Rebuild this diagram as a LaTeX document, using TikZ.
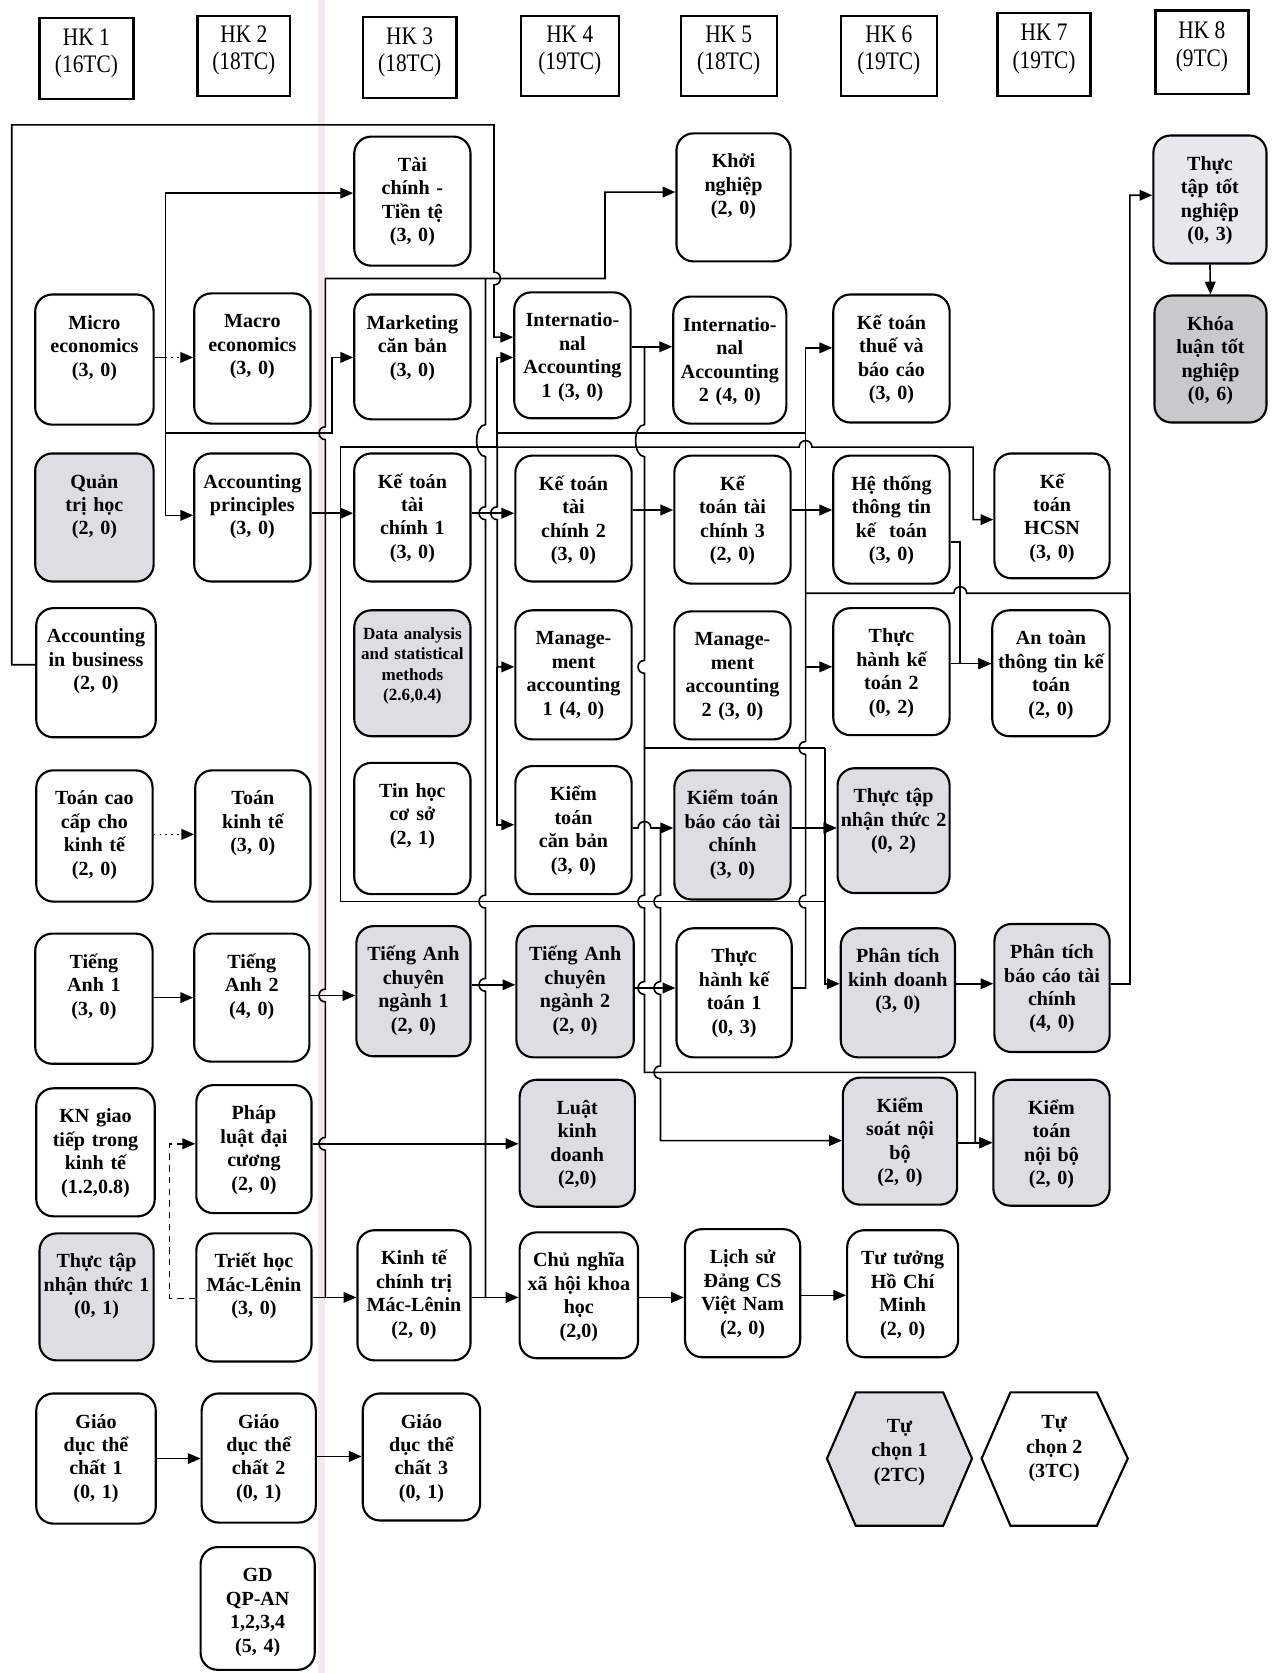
\documentclass[tikz,border=0pt]{standalone}
\usepackage{fontspec}
\setmainfont{Liberation Serif}
\newfontfamily\hdrfont[FakeStretch=0.85]{Liberation Serif}
\usetikzlibrary{arrows.meta}
\definecolor{gbox}{RGB}{222,221,228}
\definecolor{gboxl}{RGB}{231,231,237}
\definecolor{gboxd}{RGB}{200,200,205}
\definecolor{pinkband}{RGB}{245,233,241}
\tikzset{
 cbox/.style={draw=black, line width=1pt, rounded corners=8pt, inner sep=0pt},
 ctext/.style={anchor=north, inner sep=0pt, align=center, text width=60pt, text height=7pt, font=\fontsize{9.4}{11}\selectfont\bfseries},
 ln/.style={line width=0.75pt},
 arr/.style={-{Triangle[length=6pt,width=5pt]}},
 hbox/.style={draw=black, line width=1.1pt, inner sep=0pt},
 htext/.style={align=center, inner sep=0pt, font=\hdrfont\fontsize{11.8}{12.8}\selectfont},
 hext/.style={align=center, inner sep=0pt, font=\fontsize{9.4}{11.5}\selectfont\bfseries},
 vd/.style 2 args={insert path={-- (#1,#2-6) .. controls (#1-8,#2-6) and (#1-8,#2+6) .. (#1,#2+6)}},
 vdr/.style 2 args={insert path={-- (#1,#2-6) .. controls (#1+8,#2-6) and (#1+8,#2+6) .. (#1,#2+6)}},
 vu/.style 2 args={insert path={-- (#1,#2+6) .. controls (#1-8,#2+6) and (#1-8,#2-6) .. (#1,#2-6)}},
 hr/.style 2 args={insert path={-- (#1-6,#2) .. controls (#1-6,#2-8) and (#1+6,#2-8) .. (#1+6,#2)}},
}
\newcommand\course[7][]{%
 \node[cbox,minimum width={(#5-#3)*0.5pt},minimum height={(#6-#4)*0.5pt},#1] (#2) at ({(#3+#5)/2},{(#4+#6)/2}) {};
 \node[ctext] (#2t) at ([yshift=-9.5pt]#2.north) {#7};}
\newcommand\hk[6]{%
 \node[hbox,minimum width={(#4-#2)*0.5pt},minimum height={(#5-#3)*0.5pt}] (#1) at ({(#2+#4)/2},{(#3+#5)/2}) {};
 \node[htext] (#1t) at ([yshift=2.5pt]#1.center) {#6};}
\begin{document}
\begin{tikzpicture}[x=0.5pt,y=-0.5pt]
\useasboundingbox (0,0) rectangle (1198,1568);
\fill[white] (0,0) rectangle (1198,1568);
\fill[pinkband] (298,0) rectangle (305,1568);

% headers
\hk{hk1}{37}{17}{125}{93}{HK 1\\(16TC)}
\hk{hk2}{185}{15}{272}{90}{HK 2\\(18TC)}
\hk{hk3}{340}{16}{428}{92}{HK 3\\(18TC)}
\hk{hk4}{488}{15}{580}{90}{HK 4\\(19TC)}
\hk{hk5}{638}{15}{728}{90}{HK 5\\(18TC)}
\hk{hk6}{788}{15}{878}{90}{HK 6\\(19TC)}
\hk{hk7}{935}{12}{1022}{90}{HK 7\\(19TC)}
\hk{hk8}{1083}{10}{1170}{88}{HK 8\\(9TC)}

% courses
\course{tai}{332}{128}{441}{249}{Tài\\chính -\\Tiền tệ\\(3, 0)}
\course{khoi}{634}{125}{741}{245}{Khởi\\nghiệp\\(2, 0)}
\course[fill=gboxl]{tttn}{1081}{127}{1187}{247}{Thực\\tập tốt\\nghiệp\\(0, 3)}
\course{micro}{33}{276}{144}{398}{Micro\\economics\\(3, 0)}
\course{macro}{182}{275}{291}{397}{Macro\\economics\\(3, 0)}
\course{mkt}{332}{276}{441}{393}{Marketing\\căn bản\\(3, 0)}
\course{ia1}{482}{274}{591}{392}{Internatio-\\nal\\Accounting\\1 (3, 0)}
\course{ia2}{631}{278}{737}{397}{Internatio-\\nal\\Accounting\\2 (4, 0)}
\course{ktthue}{781}{276}{890}{396}{Kế toán\\thuế và\\báo cáo\\(3, 0)}
\course[fill=gboxd]{kl}{1082}{277}{1187}{396}{Khóa\\luận tốt\\nghiệp\\(0, 6)}
\course[fill=gbox]{qth}{33}{425}{144}{545}{Quản\\trị học\\(2, 0)}
\course{acprin}{182}{425}{291}{545}{Accounting\\principles\\(3, 0)}
\course{ktc1}{332}{425}{441}{545}{Kế toán\\tài\\chính 1\\(3, 0)}
\course{ktc2}{483}{427}{592}{545}{Kế toán\\tài\\chính 2\\(3, 0)}
\course{ktc3}{632}{427}{741}{547}{Kế\\toán tài\\chính 3\\(2, 0)}
\course{hts}{781}{427}{890}{547}{Hệ thống\\thông tin\\kế\ \ toán\\(3, 0)}
\course{hcsn}{932}{425}{1040}{542}{Kế\\toán\\HCSN\\(3, 0)}
\course{accbus}{34}{570}{146}{691}{Accounting\\in business\\(2, 0)}
\node[cbox,fill=gbox,minimum width=54.5pt,minimum height=59pt] (data) at (386.5,631) {};
\node[ctext,font=\fontsize{8}{9.5}\selectfont\bfseries,text height=6pt] (datat) at ([yshift=-8pt]data.north) {Data analysis\\and statistical\\methods\\(2.6,0.4)};
\course{ma1}{483}{572}{592}{693}{Manage-\\ment\\accounting\\1 (4, 0)}
\course{ma2}{632}{573}{741}{693}{Manage-\\ment\\accounting\\2 (3, 0)}
\course{th2}{781}{570}{890}{689}{Thực\\hành kế\\toán 2\\(0, 2)}
\course{atoan}{930}{572}{1040}{690}{An toàn\\thông tin kế\\toán\\(2, 0)}
\course{tcc}{34}{722}{143}{845}{Toán cao\\cấp cho\\kinh tế\\(2, 0)}
\course{tkt}{183}{722}{291}{845}{Toán\\kinh tế\\(3, 0)}
\course{tinhoc}{332}{715}{441}{838}{Tin học\\cơ sở\\(2, 1)}
\course{ktcb}{483}{718}{592}{838}{Kiểm\\toán\\căn bản\\(3, 0)}
\course[fill=gbox]{ktbc}{632}{722}{741}{843}{Kiểm toán\\báo cáo tài\\chính\\(3, 0)}
\course[fill=gbox]{ttnt2}{785}{720}{890}{837}{Thực tập\\nhận thức 2\\(0, 2)}
\course{ta1}{33}{875}{143}{997}{Tiếng\\Anh 1\\(3, 0)}
\course{ta2}{182}{875}{290}{995}{Tiếng\\Anh 2\\(4, 0)}
\course[fill=gbox]{tacn1}{334}{868}{441}{990}{Tiếng Anh\\chuyên\\ngành 1\\(2, 0)}
\course[fill=gbox]{tacn2}{484}{868}{594}{991}{Tiếng Anh\\chuyên\\ngành 2\\(2, 0)}
\course{th1}{634}{870}{742}{991}{Thực\\hành kế\\toán 1\\(0, 3)}
\course[fill=gbox]{ptkd}{788}{870}{895}{991}{Phân tích\\kinh doanh\\(3, 0)}
\course[fill=gbox]{ptbc}{932}{866}{1040}{986}{Phân tích\\báo cáo tài\\chính\\(4, 0)}
\course{kngt}{34}{1020}{145}{1140}{KN giao\\tiếp trong\\kinh tế\\(1.2,0.8)}
\course{pl}{184}{1017}{292}{1137}{Pháp\\luật đại\\cương\\(2, 0)}
\course[fill=gbox]{lkd}{487}{1012}{595}{1131}{Luật\\kinh\\doanh\\(2,0)}
\course[fill=gbox]{ksnb}{790}{1010}{897}{1129}{Kiểm\\soát nội\\bộ\\(2, 0)}
\course[fill=gbox]{ktnb}{931}{1012}{1040}{1130}{Kiểm\\toán\\nội bộ\\(2, 0)}
\course[fill=gbox]{ttnt1}{37}{1156}{144}{1275}{Thực tập\\nhận thức 1\\(0, 1)}
\course{triet}{184}{1156}{292}{1276}{Triết học\\Mác-Lênin\\(3, 0)}
\course{ktct}{335}{1153}{441}{1275}{Kinh tế\\chính trị\\Mác-Lênin\\(2, 0)}
\course{cnxh}{487}{1155}{598}{1273}{Chủ nghĩa\\xã hội khoa\\học\\(2,0)}
\course{lsd}{642}{1152}{750}{1272}{Lịch sử\\Đảng CS\\Việt Nam\\(2, 0)}
\course{tthcm}{794}{1153}{898}{1272}{Tư tưởng\\Hồ Chí\\Minh\\(2, 0)}
\course{gd1}{34}{1306}{146}{1428}{Giáo\\dục thể\\chất 1\\(0, 1)}
\course{gd2}{189}{1306}{296}{1427}{Giáo\\dục thể\\chất 2\\(0, 1)}
\course{gd3}{340}{1306}{450}{1425}{Giáo\\dục thể\\chất 3\\(0, 1)}
\course{qpan}{188}{1450}{295}{1565}{GD\\QP-AN\\1,2,3,4\\(5, 4)}

% elective hexagons
\draw[line width=1pt,fill=gbox] (802,1305) -- (884,1305) -- (911,1367) -- (884,1430) -- (802,1430) -- (775,1367) -- cycle;
\node[hext] (hex1) at (843,1361) {Tự\\chọn 1\\(2TC)};
\draw[line width=1pt] (947,1305) -- (1028,1305) -- (1057,1367) -- (1028,1430) -- (947,1430) -- (920,1367) -- cycle;
\node[hext] (hex2) at (988,1358) {Tự\\chọn 2\\(3TC)};

% ---- connectors ----
% Micro economics
\draw[ln] (micro.east |- 0,335) -- (155,335);
\draw[ln,dotted,arr] (155,335) -- (macro.west |- 0,335);
\draw[ln,arr] (155,335) -- (155,181) -- (tai.west |- 0,181);
\draw[ln,arr] (155,335) -- (155,483) -- (acprin.west |- 0,483);
\draw[ln,arr] (155,406) -- (311,406) -- (311,335) -- (mkt.west |- 0,335);

% line at x=305 to Khoi nghiep
\draw[ln,arr] (305,1216) [vu={305}{1072}] [vu={305}{933}] [vu={305}{406}] -- (305,261) -- (567,261) -- (567,180) -- (khoi.west |- 0,180);
% line at x=455
\draw[ln] (455,261) -- (455,398) .. controls (444,398) and (444,428) .. (455,428) [vd={455}{481}] [vd={455}{845}] [vd={455}{923}] -- (455,1216);

% Accounting in business
\draw[ln,arr] (accbus.west |- 0,623) -- (11,623) -- (11,117) -- (463,117) [vdr={463}{261}] -- (463,316) -- (ia1.west |- 0,316);

% Accounting principles
\draw[ln,arr] (acprin.east |- 0,481) -- (ktc1.west |- 0,481);
\draw[ln] (319,845) -- (319,419) -- (466,419);
\draw[ln,arr] (466,419) [hr={755}{419}] -- (912,419) -- (912,487) -- (hcsn.west |- 0,487);
\draw[ln,arr] (466,419) -- (466,335) -- (ia1.west |- 0,335);
\draw[ln,arr] (466,419) [vd={466}{481}] -- (466,625) -- (ma1.west |- 0,625);
\draw[ln,arr] (466,625) -- (466,773) -- (ktcb.west |- 0,773);
\draw[ln] (466,406) -- (755,406);
\draw[ln] (319,845) -- (773,845);

% financial accounting chain
\draw[ln,arr] (ktc1.east |- 0,481) -- (ktc2.west |- 0,481);
\draw[ln,arr] (ktc2.east |- 0,478) -- (ktc3.west |- 0,478);
\draw[ln,arr] (ktc3.east |- 0,478) -- (hts.west |- 0,478);

% international accounting
\draw[ln,arr] (ia1.east |- 0,325) -- (ia2.west |- 0,325);
\draw[ln,arr] (604,325) -- (604,398) .. controls (593,398) and (593,428) .. (604,428) [vd={604}{625}] [vd={604}{845}] [vd={604}{926}] -- (604,1005) -- (914,1005) -- (914,1071) -- (ktnb.west |- 0,1071);
\draw[ln] (604,701) -- (773,701);
\draw[ln,arr] (773,701) -- (773,776) -- (ttnt2.west |- 0,776);
\draw[ln,arr] (773,776) -- (773,922) -- (ptkd.west |- 0,922);
\draw[ln,arr] (ktbc.east |- 0,776) -- (ttnt2.west |- 0,776);

% auditing
\draw[ln,arr] (ktcb.east |- 0,776) [hr={604}{776}] -- (ktbc.west |- 0,776);
\draw[ln,arr] (619,776) [vd={619}{845}] [vd={619}{926}] [vd={619}{1005}] -- (619,1069) -- (ksnb.west |- 0,1069);

% line at x=755
\draw[ln,arr] (755,478) -- (755,326) -- (ktthue.west |- 0,326);
\draw[ln] (755,478) [vd={755}{701}] [vd={755}{845}] -- (755,926) -- (th1.east |- 0,926);
\draw[ln,arr] (755,625) -- (th2.west |- 0,625);
\draw[ln,arr] (755,556) [hr={900}{556}] -- (1059,556) -- (1059,183) -- (tttn.west |- 0,183);
\draw[ln] (ptbc.east |- 0,922) -- (1059,922) -- (1059,556);

% information systems
\draw[ln,arr] (hts.east |- 0,508) -- (900,508) -- (900,622) -- (atoan.west |- 0,622);
\draw[ln,arr] (th2.east |- 0,622) -- (atoan.west |- 0,622);

% others
\draw[ln,arr] (tttn.south) -- (kl.north);
\draw[ln,arr] (ptkd.east |- 0,922) -- (ptbc.west |- 0,922);
\draw[ln,arr] (ksnb.east |- 0,1071) -- (ktnb.west |- 0,1071);
\draw[ln,arr] (ta1.east |- 0,935) -- (ta2.west |- 0,935);
\draw[ln,arr] (ta2.east |- 0,933) -- (tacn1.west |- 0,933);
\draw[ln,arr] (tacn1.east |- 0,923) -- (tacn2.west |- 0,923);
\draw[ln,arr] (tacn2.east |- 0,926) -- (th1.west |- 0,926);
\draw[ln,dotted,arr] (tcc.east |- 0,782) -- (tkt.west |- 0,782);
\draw[ln,dash pattern=on 3pt off 2.5pt,arr] (triet.west |- 0,1217) -- (159,1217) -- (159,1072) -- (pl.west |- 0,1072);
\draw[ln,arr] (pl.east |- 0,1072) -- (lkd.west |- 0,1072);
\draw[ln,arr] (triet.east |- 0,1216) -- (ktct.west |- 0,1216);
\draw[ln,arr] (ktct.east |- 0,1216) -- (cnxh.west |- 0,1216);
\draw[ln,arr] (cnxh.east |- 0,1216) -- (lsd.west |- 0,1216);
\draw[ln,arr] (lsd.east |- 0,1214) -- (tthcm.west |- 0,1214);
\draw[ln,arr] (gd1.east |- 0,1367) -- (gd2.west |- 0,1367);
\draw[ln,arr] (gd2.east |- 0,1365) -- (gd3.west |- 0,1365);
\end{tikzpicture}
\end{document}
